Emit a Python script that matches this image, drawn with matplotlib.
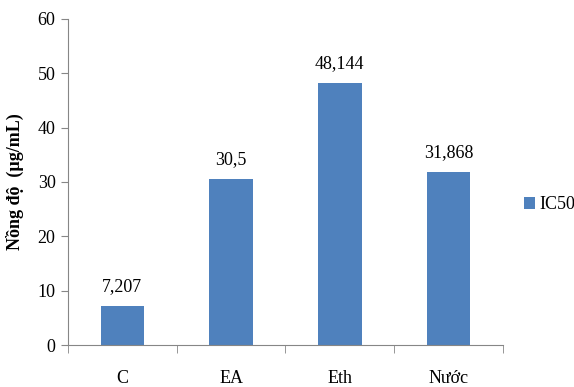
import numpy as np
import matplotlib.pyplot as plt

categories = ['C', 'EA', 'Eth', 'Nước']
ic50 = [7.207, 30.5, 48.144, 31.868]
value_labels = ['7,207', '30,5', '48,144', '31,868']

plt.rcParams['font.family'] = ['Liberation Serif', 'DejaVu Serif']

fig = plt.figure(figsize=(5.74, 3.87), dpi=100)
ax = fig.add_axes([0.1185, 0.1085, 0.7575, 0.8425])

x = np.arange(len(categories))
bars = ax.bar(x, ic50, width=0.4, color='#4F81BD', label='IC50')

for xi, v, s in zip(x, ic50, value_labels):
    ax.annotate(s, (xi, v), xytext=(0, 8), textcoords='offset points',
                ha='center', va='bottom', fontsize=13)

ax.set_xlim(-0.5, len(categories) - 0.5)
ax.set_ylim(0, 60)
ax.set_yticks(range(0, 61, 10))
ax.set_xticks(x)
ax.set_xticklabels(categories, fontsize=13)
ax.tick_params(axis='y', labelsize=13, length=5, color='#868686', pad=4)
ax.tick_params(axis='x', length=0, pad=18)
# category separators drawn as minor ticks
ax.set_xticks(np.arange(-0.5, len(categories), 1), minor=True)
ax.tick_params(axis='x', which='minor', length=6, color='#868686')

for side in ['top', 'right']:
    ax.spines[side].set_visible(False)
for side in ['left', 'bottom']:
    ax.spines[side].set_color('#868686')

ax.set_ylabel('Nồng độ  (µg/mL)', fontsize=13, fontweight='bold', labelpad=10)

ax.legend(loc='center left', bbox_to_anchor=(1.02, 0.43), frameon=False,
          fontsize=13, handlelength=0.6, handleheight=0.6, handletextpad=0.25,
          borderaxespad=0.3)

fig.savefig('out.png', dpi=100)
